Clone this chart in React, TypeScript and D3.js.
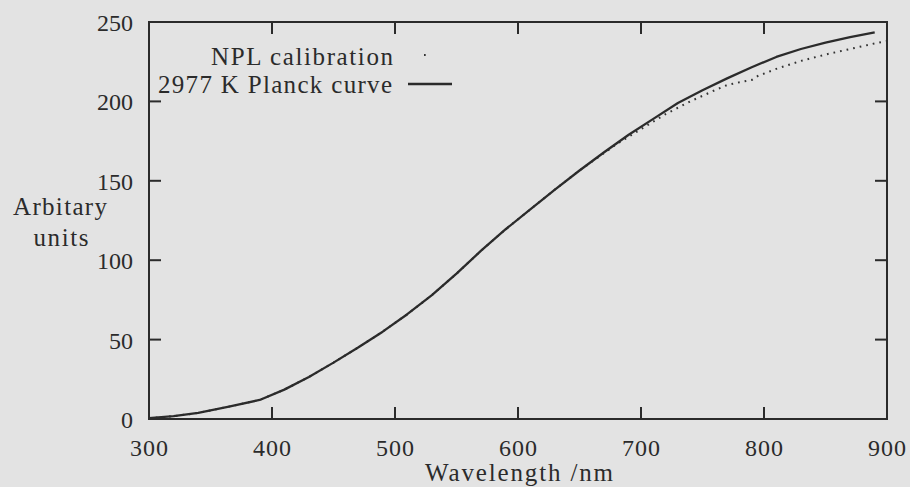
import React, { useEffect } from "react";
import * as d3 from "d3";

// Wavelength (nm) and relative intensity of the 2977 K Planck curve
const planckWavelength = [300, 320, 340, 365, 390, 410, 430, 450, 470, 490, 510, 530, 550, 570, 590, 610, 630, 650, 670, 690, 710, 730, 750, 770, 790, 810, 830, 850, 870, 890];
const planckValue = [0.5, 1.8, 3.8, 7.8, 12, 18.5, 26.5, 35.5, 45, 55, 66, 78, 91.5, 106, 119.5, 132, 144.5, 156.5, 168, 179, 189, 199, 207, 214.5, 221.5, 228, 233, 237, 240.5, 243.5];

// NPL lamp calibration measurements
const nplWavelength = [300, 320, 340, 365, 390, 410, 430, 450, 470, 490, 510, 530, 550, 570, 590, 610, 630, 650, 670, 680, 700, 720, 740, 760, 770, 780, 790, 795, 810, 830, 850, 870, 890, 900];
const nplValue = [0.5, 1.8, 3.8, 7.8, 12, 18.5, 26.5, 35.5, 45, 55, 66, 78, 91.5, 106, 119.5, 132, 144.5, 156.5, 167.5, 173, 182.5, 192, 200, 207, 210.3, 212, 213.5, 216, 220.5, 225.5, 229.5, 233, 236.5, 238];

const xTicks = [300, 400, 500, 600, 700, 800, 900];
const yTicks = [0, 50, 100, 150, 200, 250];

const W = 910;
const H = 487;
const plot = { left: 149, right: 887, top: 22, bottom: 419 };
const ink = "#2b2b2b";
const bg = "#e3e3e3";
const font = '"Liberation Serif", "DejaVu Serif", serif';

export default function App() {
  useEffect(() => {
    document.body.style.margin = "0";
    document.body.style.background = bg;
  }, []);

  const x = d3.scaleLinear().domain([300, 900]).range([plot.left, plot.right]);
  const y = d3.scaleLinear().domain([0, 250]).range([plot.bottom, plot.top]);

  const line = d3
    .line<[number, number]>()
    .x((d) => x(d[0]))
    .y((d) => y(d[1]));

  const planck = planckWavelength.map((w, i) => [w, planckValue[i]] as [number, number]);
  const npl = nplWavelength.map((w, i) => [w, nplValue[i]] as [number, number]);

  const tickLen = 12;

  return (
    <svg width={W} height={H} style={{ display: "block", background: bg, fontFamily: font }}>
      <rect x={0} y={0} width={W} height={H} fill={bg} />

      {/* data */}
      <path d={line(npl) || ""} fill="none" stroke="#333" strokeWidth={2} strokeDasharray="1.7 5" />
      <path d={line(planck) || ""} fill="none" stroke={ink} strokeWidth={2.3} strokeLinejoin="round" />

      {/* frame */}
      <rect
        x={plot.left}
        y={plot.top}
        width={plot.right - plot.left}
        height={plot.bottom - plot.top}
        fill="none"
        stroke={ink}
        strokeWidth={2}
      />

      {/* x ticks (inward, bottom and top) */}
      {xTicks.map((t) => (
        <g key={`x${t}`}>
          {t > 300 && t < 900 && (
            <>
              <line x1={x(t)} x2={x(t)} y1={plot.bottom} y2={plot.bottom - tickLen} stroke={ink} strokeWidth={2} />
              <line x1={x(t)} x2={x(t)} y1={plot.top} y2={plot.top + tickLen} stroke={ink} strokeWidth={2} />
            </>
          )}
          <text x={x(t)} y={456} textAnchor="middle" fontSize={24} fill={ink} textLength={38} lengthAdjust="spacing">
            {t}
          </text>
        </g>
      ))}

      {/* y ticks (inward, left and right) */}
      {yTicks.map((t) => (
        <g key={`y${t}`}>
          {t > 0 && t < 250 && (
            <>
              <line x1={plot.left} x2={plot.left + tickLen} y1={y(t)} y2={y(t)} stroke={ink} strokeWidth={2} />
              <line x1={plot.right} x2={plot.right - tickLen} y1={y(t)} y2={y(t)} stroke={ink} strokeWidth={2} />
            </>
          )}
          <text x={133} y={y(t) + 9} textAnchor="end" fontSize={24} fill={ink}>
            {t}
          </text>
        </g>
      ))}

      {/* axis titles */}
      <text x={519} y={481} textAnchor="middle" fontSize={25} fill={ink} textLength={188} lengthAdjust="spacing">
        Wavelength /nm
      </text>
      <text x={60} y={215} textAnchor="middle" fontSize={25} fill={ink} textLength={94} lengthAdjust="spacing">
        Arbitary
      </text>
      <text x={61} y={246} textAnchor="middle" fontSize={25} fill={ink} textLength={55} lengthAdjust="spacing">
        units
      </text>

      {/* legend */}
      <text x={393} y={65} textAnchor="end" fontSize={25} fill={ink} textLength={182} lengthAdjust="spacing">
        NPL calibration
      </text>
      <line x1={424} x2={452} y1={55} y2={55} stroke="#333" strokeWidth={2} strokeDasharray="1.7 40" />
      <text x={392} y={92.5} textAnchor="end" fontSize={25} fill={ink} textLength={234} lengthAdjust="spacing">
        2977 K Planck curve
      </text>
      <line x1={408} x2={452} y1={84} y2={84} stroke={ink} strokeWidth={2.3} />
    </svg>
  );
}
